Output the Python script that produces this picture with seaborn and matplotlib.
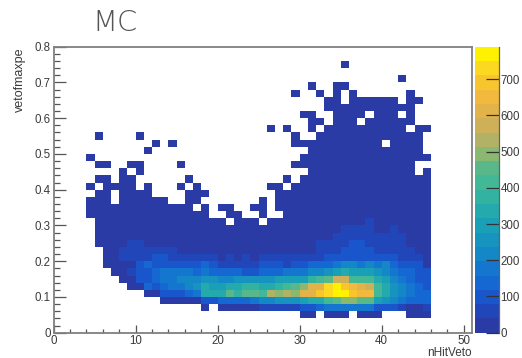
import numpy as np
import pandas as pd
import matplotlib
matplotlib.use("Agg")
import matplotlib.pyplot as plt
from matplotlib.colors import LinearSegmentedColormap, ListedColormap
from matplotlib.ticker import FixedLocator
import seaborn as sns

# Histogram contents, bin width 1 in nHitVeto and 0.02 in vetofmaxpe.
# Rows below list counts for columns 4..45 (0 = empty bin)
r02 = [0]*6 + [0]*10 + [0]*10 + [25,25,0,25,25,25,0,25,25,25] + [0,0,0,25,25,25]
r03 = [0]*6 + [0,0,0,0,0,0,0,0,25,0] + [25,25,25,25,25,70,70,70,70,70] + [100,110,130,160,160,180,180,160,160,110] + [100,90,70,25,25,60]
r04 = [0]*6 + [0,0,0,25,25,25,25,25,100,100] + [120,130,130,140,170,200,230,250,260,260] + [300,320,350,420,470,480,480,470,470,290] + [240,200,170,120,120,120]
r05 = [0]*6 + [0,25,25,100,100,100,140,180,330,320] + [320,440,360,440,470,420,530,510,540,480] + [620,620,680,740,780,770,690,660,650,400] + [330,270,200,170,130,130]
r06 = [0,0,0,0,0,25] + [25,140,100,140,180,180,220,260,340,280] + [300,320,320,380,380,340,340,360,400,470] + [480,600,620,740,760,680,670,600,570,400] + [350,250,220,170,130,110]
r07 = [0,0,0,0,25,25] + [100,100,140,180,180,220,220,220,260,240] + [220,220,240,250,250,250,260,280,280,290] + [300,380,400,440,570,590,430,420,400,320] + [300,230,180,140,100,100]
r08 = [0,0,0,25,25,60] + [100,100,140,180,180,180,180,140,180,150] + [130,120,120,110,110,140,140,140,170,170] + [170,220,220,240,310,330,300,300,310,260] + [220,170,130,120,90,90]
r09 = [0,0,25,25,25,25] + [100,140,100,100,100,100,100,100,140,100] + [60,70,70,70,70,100,100,100,70,100] + [110,150,150,150,170,200,210,190,200,180] + [200,140,110,90,90,25]
r10 = [0,0,25,25,60,60] + [60,60,100,100,60,60,60,60,60,60] + [25,60,25,60,25,60,60,60,60,60] + [60,60,70,90,90,110,110,100,100,100] + [80,80,70,60,60,25]
r11 = [0,0,25,25,60,60] + [60,60,60,60,60,25,25,25,25,25] + [25]*10 + [25,25,60,70,70,90,90,90,90,70] + [70,70,70,60,25,25]
r12 = [0,25,25,25,25,60] + [60,25,25,25,25,25,25,25,25,25] + [25]*10 + [25,25,60,60,60,70,100,100,70,70] + [60,60,60,25,25,25]
r13 = [0,25,25,25,25,25] + [25]*10 + [25]*10 + [25,25,25,25,60,60,70,70,60,60] + [60,60,60,25,25,25]
r14 = [0,25,25,25,25,25] + [25]*10 + [25]*10 + [25,25,25,25,25,60,60,60,60,25] + [25,60,25,25,25,25]
r15 = [0,25,25,25,25,25] + [25]*10 + [25,0,25,25,25,0,25,25,25,25] + [25,25,25,25,25,25,25,25,60,25] + [25]*6
dense_rows = [r02, r03, r04, r05, r06, r07, r08, r09, r10, r11, r12, r13, r14, r15]
first_dense_row = 2
first_dense_col = 4

# Sparse upper rows: columns holding a low count
sparse_count = 25
s16 = list(range(4, 19)) + [21, 22, 25] + list(range(28, 46))
s17 = list(range(4, 17)) + [18, 20, 21, 24, 25] + list(range(27, 46))
s18 = [4, 5, 6] + list(range(8, 14)) + [16, 17, 25] + list(range(27, 46))
s19 = [5, 6, 8, 9, 10, 11, 16, 17, 18] + list(range(27, 46))
s20 = [4, 6, 7, 8, 9, 11, 15, 17, 26, 27] + list(range(29, 46))
s21 = [5, 6, 8, 9, 16, 28] + list(range(30, 46))
s22 = [8, 10] + list(range(31, 44)) + [45]
s23 = [5, 6, 9, 10, 15] + list(range(29, 44))
s24 = [4] + list(range(30, 46))
s25 = [11] + list(range(31, 45))
s26 = [12, 14] + list(range(29, 40)) + list(range(41, 45))
s27 = [5, 10, 29] + list(range(32, 45))
s28 = [26, 28, 31] + list(range(33, 43)) + [44, 45]
s29 = [31, 32, 34, 35, 36] + list(range(38, 44))
s30 = [30, 31, 34, 35, 36, 37, 39, 40, 41, 43]
s31 = list(range(33, 44))
s32 = [33, 34] + list(range(36, 42)) + [43, 44]
s33 = [29, 32, 34, 36, 43]
s34 = [31, 34, 35]
s35 = [42]
s36 = []
s37 = [35]
sparse_rows = [s16, s17, s18, s19, s20, s21, s22, s23, s24, s25, s26, s27, s28, s29,
               s30, s31, s32, s33, s34, s35, s36, s37]
first_sparse_row = 16

x_ticks = [0, 10, 20, 30, 40, 50]
y_tick_labels = ["0", "0.1", "0.2", "0.3", "0.4", "0.5", "0.6", "0.7", "0.8"]
cbar_ticks = [0, 100, 200, 300, 400, 500, 600, 700]

n_x, n_y = 51, 40
grid = np.full((n_y, n_x), np.nan)
for i, row in enumerate(dense_rows):
    for j, v in enumerate(row):
        if v > 0:
            grid[first_dense_row + i, first_dense_col + j] = v
for i, row in enumerate(sparse_rows):
    for c in row:
        grid[first_sparse_row + i, c] = sparse_count
df = pd.DataFrame(grid)

# ROOT-like palette, quantised to 20 levels, as seen in the palette bar
anchors = [(0, "#2a3ba5"), (60, "#1c4cc4"), (100, "#1660d4"), (160, "#1474d0"), (200, "#1386c8"),
           (300, "#1aa2b4"), (400, "#3ab89a"), (460, "#5ab88a"), (500, "#8cb870"), (560, "#c0b060"),
           (600, "#d8b050"), (660, "#f0b840"), (700, "#f8c030"), (750, "#fcd820"), (790, "#fff200")]
vmax = 790
base = LinearSegmentedColormap.from_list("bird", [(v / vmax, c) for v, c in anchors])
cmap = ListedColormap(base(np.linspace(0, 1, 20)))

plt.rcParams["font.family"] = ["Liberation Sans", "DejaVu Sans"]
W, H = 522, 358
fig = plt.figure(figsize=(W / 100, H / 100), dpi=100, facecolor="white")
def box(l, t, r, b):
    return [l / W, 1 - b / H, (r - l) / W, (b - t) / H]
ax = fig.add_axes(box(53.5, 46.7, 472, 332.7))
cax = fig.add_axes(box(474.5, 46.7, 498.5, 332.7))

text_c = "#3a3a3a"
sns.heatmap(df, ax=ax, cbar_ax=cax, cmap=cmap, vmin=0, vmax=vmax,
            xticklabels=False, yticklabels=False, linewidths=0)
ax.set_xlim(0, n_x)
ax.set_ylim(0, n_y)
ax.set_facecolor("white")
ax.set_xlabel("")
ax.set_ylabel("")

ax.xaxis.set_major_locator(FixedLocator(x_ticks))
ax.xaxis.set_minor_locator(FixedLocator([v for v in range(0, 51, 2) if v % 10]))
ax.yaxis.set_major_locator(FixedLocator(range(0, 41, 5)))
ax.yaxis.set_minor_locator(FixedLocator([v for v in range(0, 41) if v % 5]))
ax.set_xticklabels([str(v) for v in x_ticks], fontsize=8.3, color=text_c)
ax.set_yticklabels(y_tick_labels, fontsize=8.3, color=text_c)
tc = "#555555"
ax.tick_params(axis="x", which="major", direction="in", length=6, width=0.9, color=tc, pad=2, bottom=True)
ax.tick_params(axis="x", which="minor", direction="in", length=3, width=0.9, color=tc, bottom=True)
ax.tick_params(axis="y", which="major", direction="in", length=8.5, width=0.9, color=tc, pad=2, left=True)
ax.tick_params(axis="y", which="minor", direction="in", length=4.3, width=0.9, color=tc, left=True)
for s in ax.spines.values():
    s.set_visible(True)
    s.set_color("#808080")
    s.set_linewidth(1.3)

cbar = ax.collections[0].colorbar
cbar.set_ticks(cbar_ticks)
cbar.ax.minorticks_off()
cbar.ax.tick_params(direction="in", length=9.5, width=0.9, color="#333333", labelsize=8.3,
                    labelcolor=text_c, pad=1.5, right=True)
cbar.outline.set_visible(False)
cbar.ax.spines["right"].set_visible(True)
cbar.ax.spines["right"].set_color("#666655")
cbar.ax.spines["right"].set_linewidth(0.9)

fig.text(472 / W, 1 - 353 / H, "nHitVeto", ha="right", va="center", fontsize=8.5, color=text_c)
fig.text(20 / W, 1 - 47 / H, "vetofmaxpe", ha="center", va="top", rotation=90, fontsize=9, color=text_c)
fig.text(115 / W, 1 - 23 / H, "MC", ha="center", va="center", fontsize=21, color="#555555",
         family=["DejaVu Sans"], weight=200)

fig.savefig("out.png", dpi=100, facecolor="white")
